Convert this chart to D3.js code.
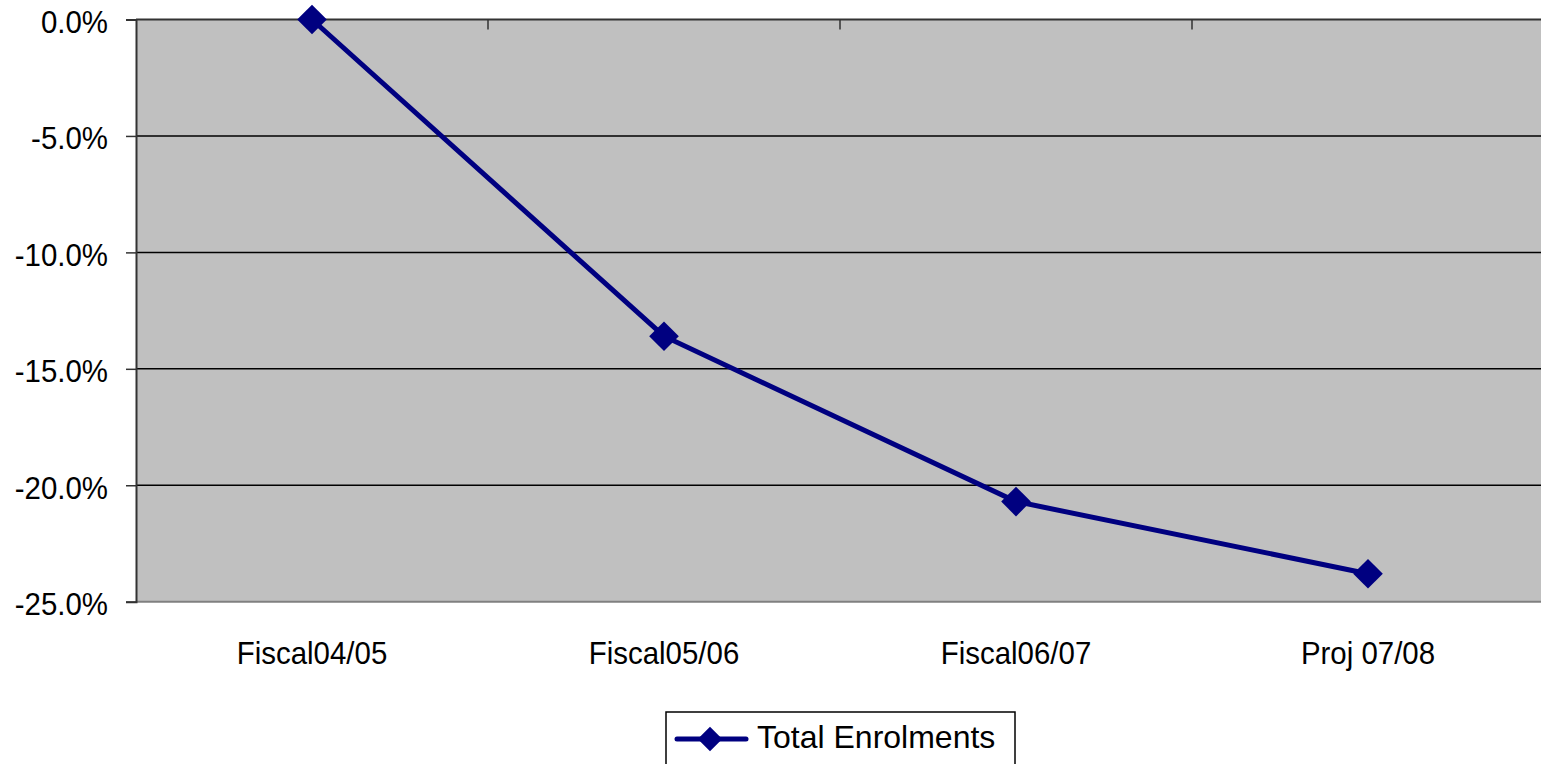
<!DOCTYPE html>
<html>
<head>
<meta charset="utf-8">
<script src="https://cdn.jsdelivr.net/npm/d3@7"></script>
<style>
  body { margin: 0; background: #fff; }
  svg { display: block; }
  text { font-family: "Liberation Sans", Arial, sans-serif; fill: #000; }
</style>
</head>
<body>
<div id="chart"></div>
<script>
var categories = ["Fiscal04/05", "Fiscal05/06", "Fiscal06/07", "Proj 07/08"];
var enrolments = [0.0, -13.6, -20.7, -23.8];
var yTicks = [0, -5, -10, -15, -20, -25];
var seriesName = "Total Enrolments";

var W = 1541, H = 764;
// plot box (note: "top" is reserved on window, so use plotTop)
var plotLeft = 136, plotRight = 1544, plotTop = 19.5, plotBottom = 601.7;

var svg = d3.select("#chart").append("svg")
    .attr("width", W)
    .attr("height", H);

var x = d3.scaleBand().domain(categories).range([plotLeft, plotRight]);
var y = d3.scaleLinear().domain([-25, 0]).range([plotBottom, plotTop]);

// plot background
svg.append("rect")
    .attr("x", plotLeft).attr("y", plotTop)
    .attr("width", plotRight - plotLeft).attr("height", plotBottom - plotTop)
    .attr("fill", "#c0c0c0");

// gridlines
svg.append("g")
    .selectAll("line")
    .data(yTicks.filter(function(d) { return d > -25 && d < 0; }))
    .enter().append("line")
    .attr("x1", plotLeft).attr("x2", plotRight)
    .attr("y1", function(d) { return y(d); })
    .attr("y2", function(d) { return y(d); })
    .attr("stroke", "#000")
    .attr("stroke-width", 1.5);

// bottom border (gray)
svg.append("line")
    .attr("x1", plotLeft).attr("x2", plotRight)
    .attr("y1", plotBottom).attr("y2", plotBottom)
    .attr("stroke", "#808080")
    .attr("stroke-width", 2);

// category axis sits on the 0% line, ticks between categories
var xAxisG = svg.append("g");
xAxisG.append("line")
    .attr("x1", plotLeft).attr("x2", plotRight)
    .attr("y1", plotTop).attr("y2", plotTop)
    .attr("stroke", "#333")
    .attr("stroke-width", 2);
xAxisG.selectAll("line.tick")
    .data(categories.slice(1))
    .enter().append("line")
    .attr("class", "tick")
    .attr("x1", function(d) { return x(d); })
    .attr("x2", function(d) { return x(d); })
    .attr("y1", plotTop).attr("y2", plotTop + 10)
    .attr("stroke", "#333")
    .attr("stroke-width", 1.5);

// value axis
var yAxis = d3.axisLeft(y)
    .tickValues(yTicks)
    .tickSize(10)
    .tickFormat(function(d) { return d.toFixed(1) + "%"; });
var yAxisG = svg.append("g")
    .attr("transform", "translate(" + plotLeft + ",0)")
    .call(yAxis);
yAxisG.select(".domain")
    .attr("stroke", "#333")
    .attr("stroke-width", 2);
yAxisG.selectAll(".tick line").attr("stroke", "#333").attr("stroke-width", 1.5);
yAxisG.selectAll(".tick text").remove();
yAxisG.selectAll(".tick").append("text")
    .attr("transform", "translate(-28,13) scale(0.92,1)")
    .attr("text-anchor", "end")
    .attr("font-size", 32)
    .attr("fill", "#000")
    .text(function(d) { return d.toFixed(1) + "%"; });

// category labels
svg.append("g")
    .selectAll("text")
    .data(categories)
    .enter().append("text")
    .attr("transform", function(d) {
        return "translate(" + (x(d) + x.bandwidth() / 2) + ",664) scale(0.92,1)";
    })
    .attr("text-anchor", "middle")
    .attr("font-size", 32)
    .text(function(d) { return d; });

// series line
var pts = categories.map(function(c, i) { return { c: c, v: enrolments[i] }; });
var line = d3.line()
    .x(function(d) { return x(d.c) + x.bandwidth() / 2; })
    .y(function(d) { return y(d.v); });

svg.append("path")
    .datum(pts)
    .attr("d", line)
    .attr("fill", "none")
    .attr("stroke", "#000080")
    .attr("stroke-width", 5);

var diamond = d3.symbol().type(d3.symbolSquare).size(440);
svg.append("g")
    .selectAll("path")
    .data(pts)
    .enter().append("path")
    .attr("d", diamond)
    .attr("transform", function(d) {
        return "translate(" + (x(d.c) + x.bandwidth() / 2) + "," + y(d.v) + ") rotate(45)";
    })
    .attr("fill", "#000080");

// legend
var lg = svg.append("g");
lg.append("rect")
    .attr("x", 666).attr("y", 712)
    .attr("width", 349).attr("height", 70)
    .attr("fill", "#fff")
    .attr("stroke", "#000")
    .attr("stroke-width", 1.5);
lg.append("line")
    .attr("x1", 677).attr("x2", 746)
    .attr("y1", 739).attr("y2", 739)
    .attr("stroke", "#000080")
    .attr("stroke-width", 5)
    .attr("stroke-linecap", "round");
lg.append("path")
    .attr("d", d3.symbol().type(d3.symbolSquare).size(300))
    .attr("transform", "translate(710,739) rotate(45)")
    .attr("fill", "#000080");
lg.append("text")
    .attr("x", 757).attr("y", 748)
    .attr("font-size", 32)
    .text(seriesName);
</script>
</body>
</html>
